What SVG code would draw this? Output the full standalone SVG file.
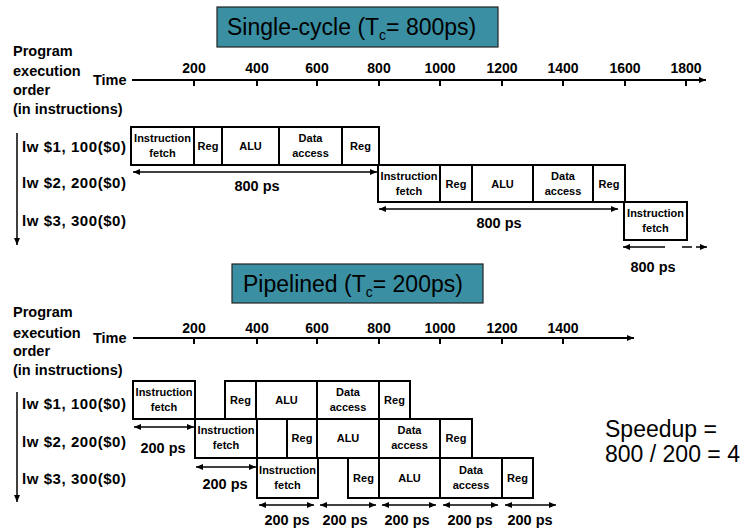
<svg xmlns="http://www.w3.org/2000/svg" width="749" height="531" viewBox="0 0 749 531">
<defs>
<marker id="ah" markerUnits="userSpaceOnUse" markerWidth="8" markerHeight="6" refX="7" refY="3" orient="auto-start-reverse"><path d="M0,0 L7,3 L0,6 Z" fill="#000"/></marker>
<style>
.lbl{font-family:"Liberation Sans",Arial,sans-serif;font-weight:bold;fill:#000}
.side{font-size:14.5px}
.tick{font-size:14px;text-anchor:middle}
.ins{font-size:15px}
.ps{font-size:14.5px;text-anchor:middle}
.bx{font-size:11px;text-anchor:middle}
.title{font-family:"Liberation Sans",Arial,sans-serif;font-size:23px;fill:#000}
.tbox{fill:#3A8FA3;stroke:#222;stroke-width:1.2}
.box{fill:#fff;stroke:#000;stroke-width:2}
.div{stroke:#000;stroke-width:2}
.axis{stroke:#000;stroke-width:2;fill:none}
.tk{stroke:#000;stroke-width:2}
.arr{stroke:#000;stroke-width:1.5;fill:none}
</style>
</defs>

<g id="title-single">
<rect class="tbox" x="217" y="7" width="281" height="40"/>
<text class="title" x="227" y="35">Single-cycle (T<tspan font-size="14" dy="5">c</tspan><tspan dy="-5">= 800ps)</tspan></text>
</g>

<g id="axis-single">
<text class="lbl side" x="13" y="56">Program</text>
<text class="lbl side" x="13" y="76">execution</text>
<text class="lbl side" x="13" y="95">order</text>
<text class="lbl side" x="13" y="114">(in instructions)</text>
<text class="lbl side" x="93" y="85">Time</text>
<line class="axis" x1="132" y1="80" x2="706" y2="80" marker-end="url(#ah)"/>
<g class="tk">
<line x1="194" y1="80" x2="194" y2="86"/><line x1="257" y1="80" x2="257" y2="86"/><line x1="317" y1="80" x2="317" y2="86"/><line x1="379" y1="80" x2="379" y2="86"/><line x1="440" y1="80" x2="440" y2="86"/><line x1="502" y1="80" x2="502" y2="86"/><line x1="563" y1="80" x2="563" y2="86"/><line x1="625" y1="80" x2="625" y2="86"/><line x1="686" y1="80" x2="686" y2="86"/>
</g>
<g class="lbl tick">
<text x="194" y="73">200</text><text x="257" y="73">400</text><text x="317" y="73">600</text><text x="379" y="73">800</text><text x="440" y="73">1000</text><text x="502" y="73">1200</text><text x="563" y="73">1400</text><text x="625" y="73">1600</text><text x="686" y="73">1800</text>
</g>
<line class="arr" x1="17" y1="133" x2="17" y2="245" marker-end="url(#ah)"/>
<text class="lbl ins" x="22" y="152" textLength="104" lengthAdjust="spacing">lw $1, 100($0)</text>
<text class="lbl ins" x="22" y="188" textLength="104" lengthAdjust="spacing">lw $2, 200($0)</text>
<text class="lbl ins" x="22" y="226" textLength="104" lengthAdjust="spacing">lw $3, 300($0)</text>
</g>

<g id="sc-instr1">
<rect class="box" x="131" y="127" width="248" height="38"/>
<line class="div" x1="194" y1="127" x2="194" y2="165"/><line class="div" x1="222" y1="127" x2="222" y2="165"/><line class="div" x1="279" y1="127" x2="279" y2="165"/><line class="div" x1="342" y1="127" x2="342" y2="165"/>
<g class="lbl bx">
<text x="162.5" y="142">Instruction</text><text x="162.5" y="157">fetch</text>
<text x="208" y="150">Reg</text>
<text x="250.5" y="150">ALU</text>
<text x="310.5" y="142">Data</text><text x="310.5" y="157">access</text>
<text x="360.5" y="150">Reg</text>
</g>
</g>

<g id="sc-instr2">
<rect class="box" x="378" y="165" width="247" height="37"/>
<line class="div" x1="440" y1="165" x2="440" y2="202"/><line class="div" x1="472" y1="165" x2="472" y2="202"/><line class="div" x1="533" y1="165" x2="533" y2="202"/><line class="div" x1="593" y1="165" x2="593" y2="202"/>
<g class="lbl bx">
<text x="409" y="180">Instruction</text><text x="409" y="195">fetch</text>
<text x="456" y="188">Reg</text>
<text x="502.5" y="188">ALU</text>
<text x="563" y="180">Data</text><text x="563" y="195">access</text>
<text x="609" y="188">Reg</text>
</g>
</g>

<g id="sc-instr3">
<rect class="box" x="624" y="202" width="63" height="38"/>
<g class="lbl bx"><text x="655.5" y="217">Instruction</text><text x="655.5" y="232">fetch</text></g>
</g>

<g id="sc-times">
<line class="arr" x1="133" y1="172" x2="377" y2="172" marker-start="url(#ah)" marker-end="url(#ah)"/>
<text class="lbl ps" x="257" y="191">800 ps</text>
<line class="arr" x1="379" y1="209" x2="618" y2="209" marker-start="url(#ah)" marker-end="url(#ah)"/>
<text class="lbl ps" x="499" y="228">800 ps</text>
<line class="arr" x1="623" y1="247" x2="665" y2="247" marker-start="url(#ah)"/>
<line class="arr" x1="682" y1="247" x2="692" y2="247"/>
<line class="arr" x1="696" y1="247" x2="707" y2="247" marker-end="url(#ah)"/>
<text class="lbl ps" x="653" y="272">800 ps</text>
</g>

<g id="title-pipe">
<rect class="tbox" x="232" y="264" width="251" height="39"/>
<text class="title" x="243" y="292">Pipelined (T<tspan font-size="14" dy="5">c</tspan><tspan dy="-5">= 200ps)</tspan></text>
</g>

<g id="axis-pipe">
<text class="lbl side" x="13" y="317">Program</text>
<text class="lbl side" x="13" y="338">execution</text>
<text class="lbl side" x="13" y="356">order</text>
<text class="lbl side" x="13" y="375">(in instructions)</text>
<text class="lbl side" x="93" y="343">Time</text>
<line class="axis" x1="133" y1="338" x2="634" y2="338" marker-end="url(#ah)"/>
<g class="tk">
<line x1="194" y1="338" x2="194" y2="344"/><line x1="257" y1="338" x2="257" y2="344"/><line x1="317" y1="338" x2="317" y2="344"/><line x1="379" y1="338" x2="379" y2="344"/><line x1="440" y1="338" x2="440" y2="344"/><line x1="502" y1="338" x2="502" y2="344"/><line x1="563" y1="338" x2="563" y2="344"/>
</g>
<g class="lbl tick">
<text x="194" y="333">200</text><text x="257" y="333">400</text><text x="317" y="333">600</text><text x="379" y="333">800</text><text x="440" y="333">1000</text><text x="502" y="333">1200</text><text x="563" y="333">1400</text>
</g>
<line class="arr" x1="17" y1="392" x2="17" y2="502" marker-end="url(#ah)"/>
<text class="lbl ins" x="22" y="409" textLength="104" lengthAdjust="spacing">lw $1, 100($0)</text>
<text class="lbl ins" x="22" y="447" textLength="104" lengthAdjust="spacing">lw $2, 200($0)</text>
<text class="lbl ins" x="22" y="484" textLength="104" lengthAdjust="spacing">lw $3, 300($0)</text>
</g>

<g id="p-instr1">
<rect class="box" x="133" y="381" width="62" height="38"/>
<rect class="box" x="225" y="381" width="185" height="38"/>
<line class="div" x1="256" y1="381" x2="256" y2="419"/><line class="div" x1="317" y1="381" x2="317" y2="419"/><line class="div" x1="379" y1="381" x2="379" y2="419"/>
<g class="lbl bx">
<text x="164" y="396">Instruction</text><text x="164" y="411">fetch</text>
<text x="240.5" y="404">Reg</text>
<text x="286.5" y="404">ALU</text>
<text x="348" y="396">Data</text><text x="348" y="411">access</text>
<text x="394.5" y="404">Reg</text>
</g>
</g>

<g id="p-instr2">
<rect class="box" x="195" y="419" width="62" height="39"/>
<rect class="box" x="287" y="419" width="185" height="39"/>
<line class="div" x1="317" y1="419" x2="317" y2="458"/><line class="div" x1="379" y1="419" x2="379" y2="458"/><line class="div" x1="440" y1="419" x2="440" y2="458"/>
<g class="lbl bx">
<text x="226" y="434">Instruction</text><text x="226" y="449">fetch</text>
<text x="302" y="442">Reg</text>
<text x="348" y="442">ALU</text>
<text x="409.5" y="434">Data</text><text x="409.5" y="449">access</text>
<text x="456" y="442">Reg</text>
</g>
</g>

<g id="p-instr3">
<rect class="box" x="257" y="458" width="61" height="40"/>
<rect class="box" x="348" y="458" width="185" height="40"/>
<line class="div" x1="379" y1="458" x2="379" y2="498"/><line class="div" x1="440" y1="458" x2="440" y2="498"/><line class="div" x1="502" y1="458" x2="502" y2="498"/>
<g class="lbl bx">
<text x="287.5" y="474">Instruction</text><text x="287.5" y="489">fetch</text>
<text x="363.5" y="482">Reg</text>
<text x="409.5" y="482">ALU</text>
<text x="471" y="474">Data</text><text x="471" y="489">access</text>
<text x="517.5" y="482">Reg</text>
</g>
</g>

<g id="p-times">
<line class="arr" x1="134" y1="427" x2="194" y2="427" marker-start="url(#ah)" marker-end="url(#ah)"/>
<text class="lbl ps" x="163" y="453">200 ps</text>
<line class="arr" x1="196" y1="467" x2="256" y2="467" marker-start="url(#ah)" marker-end="url(#ah)"/>
<text class="lbl ps" x="225" y="489">200 ps</text>
<line class="arr" x1="259" y1="505" x2="314" y2="505" marker-start="url(#ah)" marker-end="url(#ah)"/>
<line class="arr" x1="320" y1="505" x2="376" y2="505" marker-start="url(#ah)" marker-end="url(#ah)"/>
<line class="arr" x1="382" y1="505" x2="436" y2="505" marker-start="url(#ah)" marker-end="url(#ah)"/>
<line class="arr" x1="443" y1="505" x2="498" y2="505" marker-start="url(#ah)" marker-end="url(#ah)"/>
<line class="arr" x1="505" y1="505" x2="556" y2="505" marker-start="url(#ah)" marker-end="url(#ah)"/>
<text class="lbl ps" x="287" y="525">200 ps</text>
<text class="lbl ps" x="345" y="525">200 ps</text>
<text class="lbl ps" x="407" y="525">200 ps</text>
<text class="lbl ps" x="470" y="525">200 ps</text>
<text class="lbl ps" x="530" y="525">200 ps</text>
</g>

<g id="speedup">
<text class="title" x="605" y="437">Speedup =</text>
<text class="title" x="605" y="462">800 / 200 = 4</text>
</g>
</svg>
